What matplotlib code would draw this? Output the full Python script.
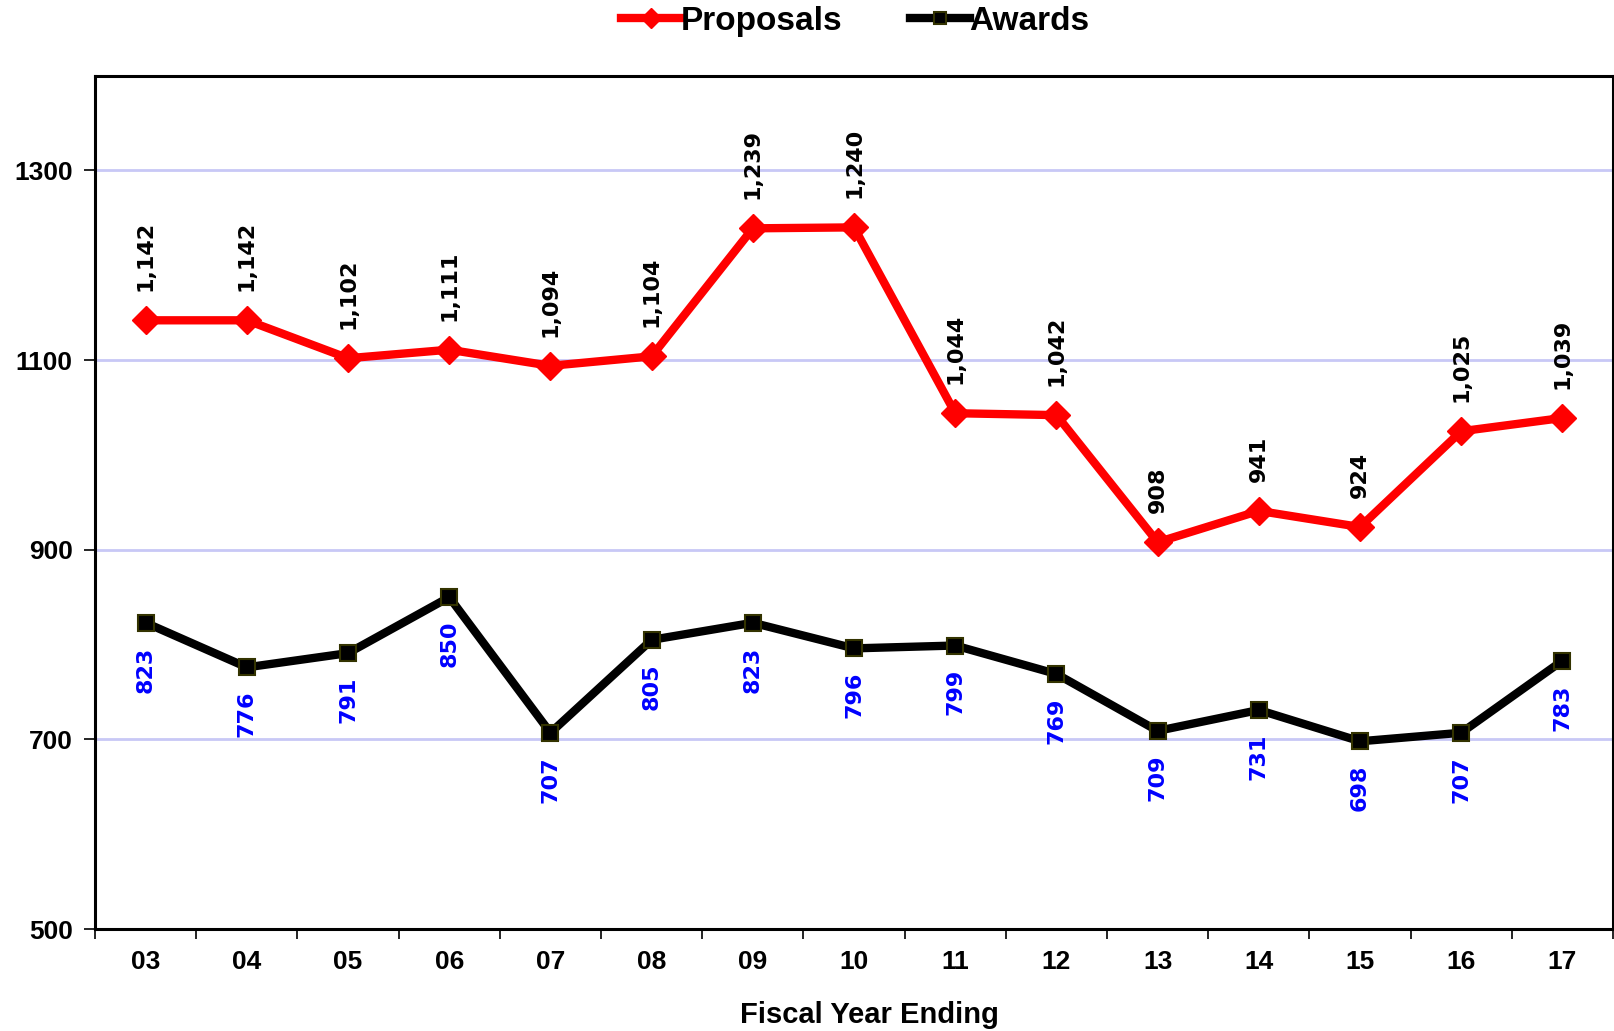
import matplotlib.pyplot as plt
import numpy as np

years = ['03', '04', '05', '06', '07', '08', '09', '10', '11', '12', '13', '14', '15', '16', '17']
proposals = [1142, 1142, 1102, 1111, 1094, 1104, 1239, 1240, 1044, 1042, 908, 941, 924, 1025, 1039]
awards = [823, 776, 791, 850, 707, 805, 823, 796, 799, 769, 709, 731, 698, 707, 783]

plt.rcParams['font.family'] = 'Liberation Sans'
plt.rcParams['font.weight'] = 'bold'
plt.rcParams['font.size'] = 19

fig = plt.figure(figsize=(16.14, 10.31), dpi=100)
ax = fig.add_axes([0.0589, 0.0989, 0.9405, 0.8277])

x = np.arange(len(years))

ax.plot(x, proposals, color='red', lw=6, marker='D', ms=14, mfc='red', mec='red', label='Proposals', zorder=3)
ax.plot(x, awards, color='black', lw=6, marker='s', ms=12, mfc='black', mec='#333300', mew=1.5, label='Awards', zorder=3)

# data labels
for xi, v in zip(x, proposals):
    ax.annotate(f'{v:,}', (xi, v), xytext=(0, 21), textcoords='offset points',
                rotation=90, ha='center', va='bottom', fontsize=16, fontweight='bold',
                family='DejaVu Sans', color='black')
for xi, v in zip(x, awards):
    ax.annotate(f'{v:,}', (xi, v), xytext=(0, -17), textcoords='offset points',
                rotation=90, ha='center', va='top', fontsize=16, fontweight='bold',
                family='DejaVu Sans', color='blue')

ax.set_xlim(-0.5, len(years) - 0.5)
ax.set_ylim(500, 1400)
ax.set_yticks([500, 700, 900, 1100, 1300])
for gy in [700, 900, 1100, 1300]:
    ax.axhline(gy, color='#c8c8f6', lw=2, zorder=1)

ax.set_xticks(x)
ax.set_xticklabels(years)
ax.set_xticks(np.arange(-0.5, len(years)), minor=True)
ax.tick_params(axis='x', which='major', length=0, pad=15, labelsize=19)
ax.tick_params(axis='x', which='minor', length=7, width=1.2, direction='out')
ax.tick_params(axis='y', length=8, width=1.2, direction='out', pad=8, labelsize=19)

for sp in ax.spines.values():
    sp.set_linewidth(2.2)
    sp.set_color('black')

ax.set_xlabel('Fiscal Year Ending', fontsize=21, fontweight='bold', va='center')
ax.xaxis.set_label_coords(0.51, -0.101)

fig.legend(loc='center', bbox_to_anchor=(0.53, 0.979), ncol=2, frameon=False,
           prop={'weight': 'bold', 'size': 24}, markerscale=0.75,
           handlelength=1.8, handletextpad=0.0, columnspacing=2.0)

fig.savefig('out.png', dpi=100)
